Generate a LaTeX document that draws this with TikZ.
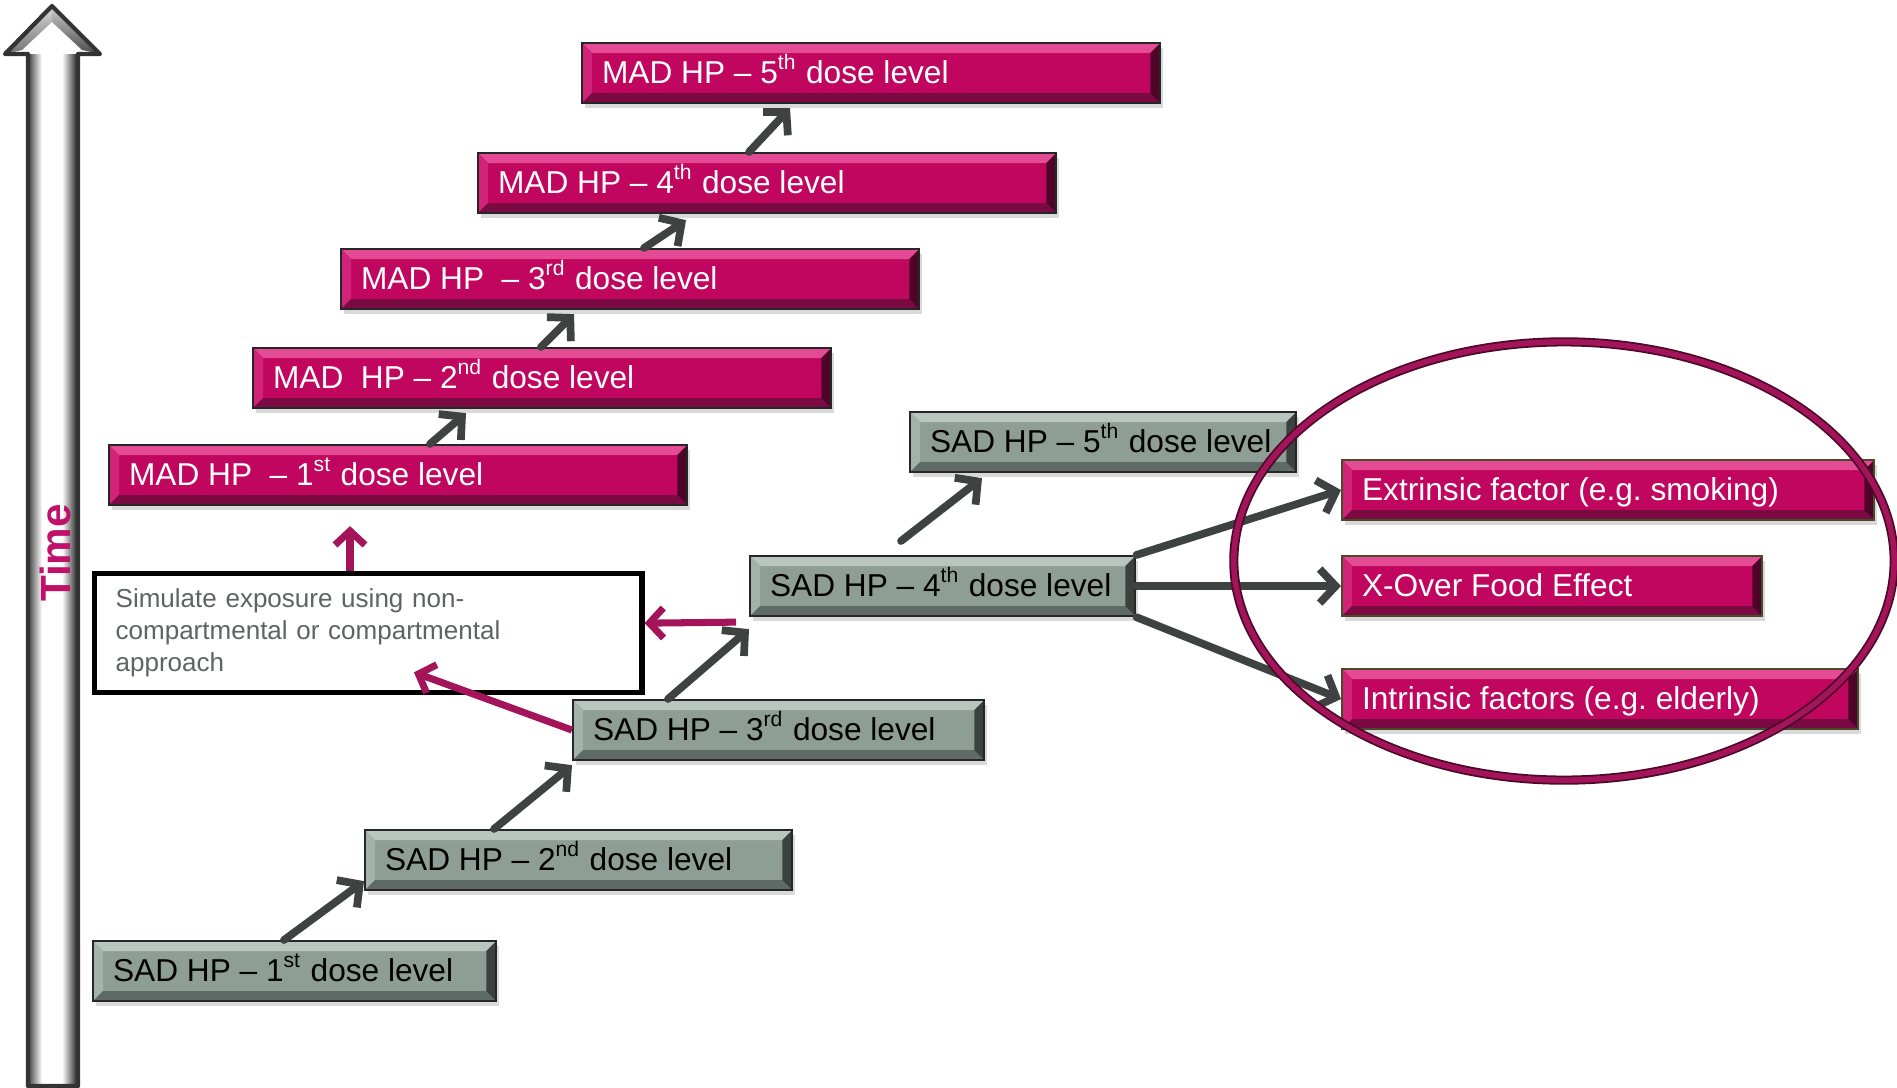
\documentclass[tikz,border=0pt]{standalone}
\usepackage{fontspec}
\setmainfont{Liberation Sans}
\usetikzlibrary{arrows.meta,shadows}

\definecolor{madface}{HTML}{C0065E}
\definecolor{madlight}{HTML}{E44B94}
\definecolor{madmid}{HTML}{D2237A}
\definecolor{maddark}{HTML}{7A0A42}
\definecolor{madshadow}{HTML}{4E0428}
\definecolor{sadface}{HTML}{8E9D96}
\definecolor{sadlight}{HTML}{B9C6C0}
\definecolor{sadmid}{HTML}{A4B2AC}
\definecolor{saddark}{HTML}{5E6A65}
\definecolor{sadshadow}{HTML}{3A413E}
\definecolor{factorline}{HTML}{4A4A2A}
\definecolor{arrowgray}{HTML}{3E4341}
\definecolor{arrowmag}{HTML}{A3145A}
\definecolor{ringline}{HTML}{4A0A28}
\definecolor{simtext}{HTML}{5C6561}
\definecolor{timemag}{HTML}{C0106A}

\newcommand{\boxfont}{\fontsize{9pt}{11pt}\selectfont\frenchspacing}
\newcommand{\simfont}{\fontsize{7.4pt}{9.1pt}\selectfont}
\newcommand{\doselabel}[2]{\makebox[#1][l]{#2}}

\begin{document}
\begin{tikzpicture}[x=0.01cm,y=-0.01cm,
  bevel/.style n args={4}{path picture={
    \path (path picture bounding box.north west) coordinate (pw)
          (path picture bounding box.south east) coordinate (pe)
          (pw -| pe) coordinate (pn) (pw |- pe) coordinate (ps);
    \fill[#1] (pw) -- (pn) -- ([shift={(-.1cm,-.1cm)}]pn) -- ([shift={(.1cm,-.1cm)}]pw) -- cycle;
    \fill[#2] (pw) -- (ps) -- ([shift={(.1cm,.1cm)}]ps) -- ([shift={(.1cm,-.1cm)}]pw) -- cycle;
    \fill[#3] (pe) -- (ps) -- ([shift={(.1cm,.1cm)}]ps) -- ([shift={(-.1cm,.1cm)}]pe) -- cycle;
    \fill[#4] (pe) -- (pn) -- ([shift={(-.1cm,-.1cm)}]pn) -- ([shift={(-.1cm,.1cm)}]pe) -- cycle;
  }},
  dosebox/.style={draw=black!85, line width=0.6pt, anchor=north west,
    minimum height=0.6cm, inner xsep=0.2cm, inner ysep=0pt,
    text height=0.22cm, text depth=0.02cm,
    font=\boxfont, drop shadow={opacity=0.3,shadow xshift=0.03cm,shadow yshift=-0.05cm}},
  madbox/.style={dosebox, fill=madface, text=white, bevel={madlight}{madmid}{maddark}{madshadow}},
  sadbox/.style={dosebox, fill=sadface, text=black, bevel={sadlight}{sadmid}{saddark}{sadshadow}},
  factorbox/.style={madbox, draw=factorline},
  simbox/.style={draw=black, line width=1.5pt, fill=white, anchor=north west,
    minimum height=1.19cm, text width=5.05cm, inner xsep=0.21cm, align=left,
    font=\simfont, text=simtext},
  sadarrow/.style={draw=arrowgray, line width=2.2pt, line cap=round,
    -{Straight Barb[length=0.16cm,width=0.34cm]}},
  madarrow/.style={draw=arrowmag, line width=2pt,
    -{Straight Barb[length=0.14cm,width=0.3cm]}}]
\useasboundingbox (0,0) rectangle (1897,1088);

% time axis
\fill[white] (28,54) rectangle (78,1086);
\shade[left color=black!75, right color=white] (28,54) rectangle (42,1086);
\shade[left color=white, right color=black!90] (62,54) rectangle (78,1086);
\fill[white] (5,54) -- (52,6) -- (100,54) -- cycle;
\shade[top color=black!15, bottom color=black!55] (5,54) -- (52,6) -- (52,22) -- (22,50) -- cycle;
\shade[top color=black!20, bottom color=black!70] (100,54) -- (52,6) -- (52,22) -- (82,50) -- cycle;
\draw[line width=1.2pt, black!80, line join=round] (28,1086) -- (28,54) -- (5,54) -- (52,6) -- (100,54) -- (78,54) -- (78,1086) -- cycle;
\node[rotate=90, font=\bfseries\fontsize{12pt}{14pt}\selectfont, text=timemag] (timelbl) at (55,553) {Time};

% MAD steps
\node[madbox] (mad1) at (108,444) {\doselabel{5.38cm}{MAD HP\ \ – 1\textsuperscript{st} dose level}};
\node[madbox] (mad2) at (252,347) {\doselabel{5.38cm}{MAD\ \ HP – 2\textsuperscript{nd} dose level}};
\node[madbox] (mad3) at (340,248) {\doselabel{5.38cm}{MAD HP\ \ – 3\textsuperscript{rd} dose level}};
\node[madbox] (mad4) at (477,152) {\doselabel{5.38cm}{MAD HP – 4\textsuperscript{th} dose level}};
\node[madbox] (mad5) at (581,42) {\doselabel{5.38cm}{MAD HP – 5\textsuperscript{th} dose level}};

% SAD steps
\node[sadbox] (sad1) at (92,940) {\doselabel{3.63cm}{SAD HP – 1\textsuperscript{st} dose level}};
\node[sadbox] (sad2) at (364,829) {\doselabel{3.87cm}{SAD HP – 2\textsuperscript{nd} dose level}};
\node[sadbox] (sad3) at (572,699) {\doselabel{3.71cm}{SAD HP – 3\textsuperscript{rd} dose level}};
\node[sadbox] (sad4) at (749,555) {\doselabel{3.45cm}{SAD HP – 4\textsuperscript{th} dose level}};
\node[sadbox] (sad5) at (909,411) {\doselabel{3.46cm}{SAD HP – 5\textsuperscript{th} dose level}};

% follow-up studies
\node[factorbox] (ext) at (1341,459) {\doselabel{4.92cm}{Extrinsic factor (e.g. smoking)}};
\node[factorbox] (xo) at (1341,555) {\doselabel{3.80cm}{X-Over Food Effect}};
\node[factorbox] (intr) at (1341,668) {\doselabel{4.76cm}{Intrinsic factors (e.g. elderly)}};

\node[simbox] (sim) at (92,571) {Simulate exposure using non-\\compartmental or compartmental\\approach};

% escalation arrows
\draw[sadarrow] ([shift={(192,0)}]sad1.north west) -- ([shift={(0,-10)}]sad2.south west);
\draw[sadarrow] ([shift={(130,0)}]sad2.north west) -- ([shift={(0,4)}]sad3.south west);
\draw[sadarrow] ([shift={(96,0)}]sad3.north west) -- ([shift={(0,12)}]sad4.south west);
\draw[sadarrow] ([shift={(152,-14)}]sad4.north west) -- ([shift={(73,5)}]sad5.south west);
\draw[sadarrow] ([shift={(322,0)}]mad1.north west) -- ([shift={(214,4)}]mad2.south west);
\draw[sadarrow] ([shift={(289,0)}]mad2.north west) -- ([shift={(234,4)}]mad3.south west);
\draw[sadarrow] ([shift={(304,0)}]mad3.north west) -- ([shift={(209,6)}]mad4.south west);
\draw[sadarrow] ([shift={(272,0)}]mad4.north west) -- ([shift={(209,4)}]mad5.south west);
\draw[sadarrow] (sad4.north east) -- (ext.west);
\draw[sadarrow] (sad4.east) -- (xo.west);
\draw[sadarrow] (sad4.south east) -- (intr.west);

% simulation arrows
\draw[madarrow] ([shift={(258,0)}]sim.north west) -- ([shift={(242,20)}]mad1.south west);
\draw[madarrow] ([shift={(-13,5)}]sad4.south west) -- ([shift={(0,-10)}]sim.east);
\draw[madarrow] (sad3.west) -- ([shift={(322,-23)}]sim.south west);

\draw[draw=ringline, line width=0.5pt, double=arrowmag, double distance=1.6pt] (1564,561) ellipse [x radius=3.30cm, y radius=2.19cm];
\end{tikzpicture}
\end{document}
